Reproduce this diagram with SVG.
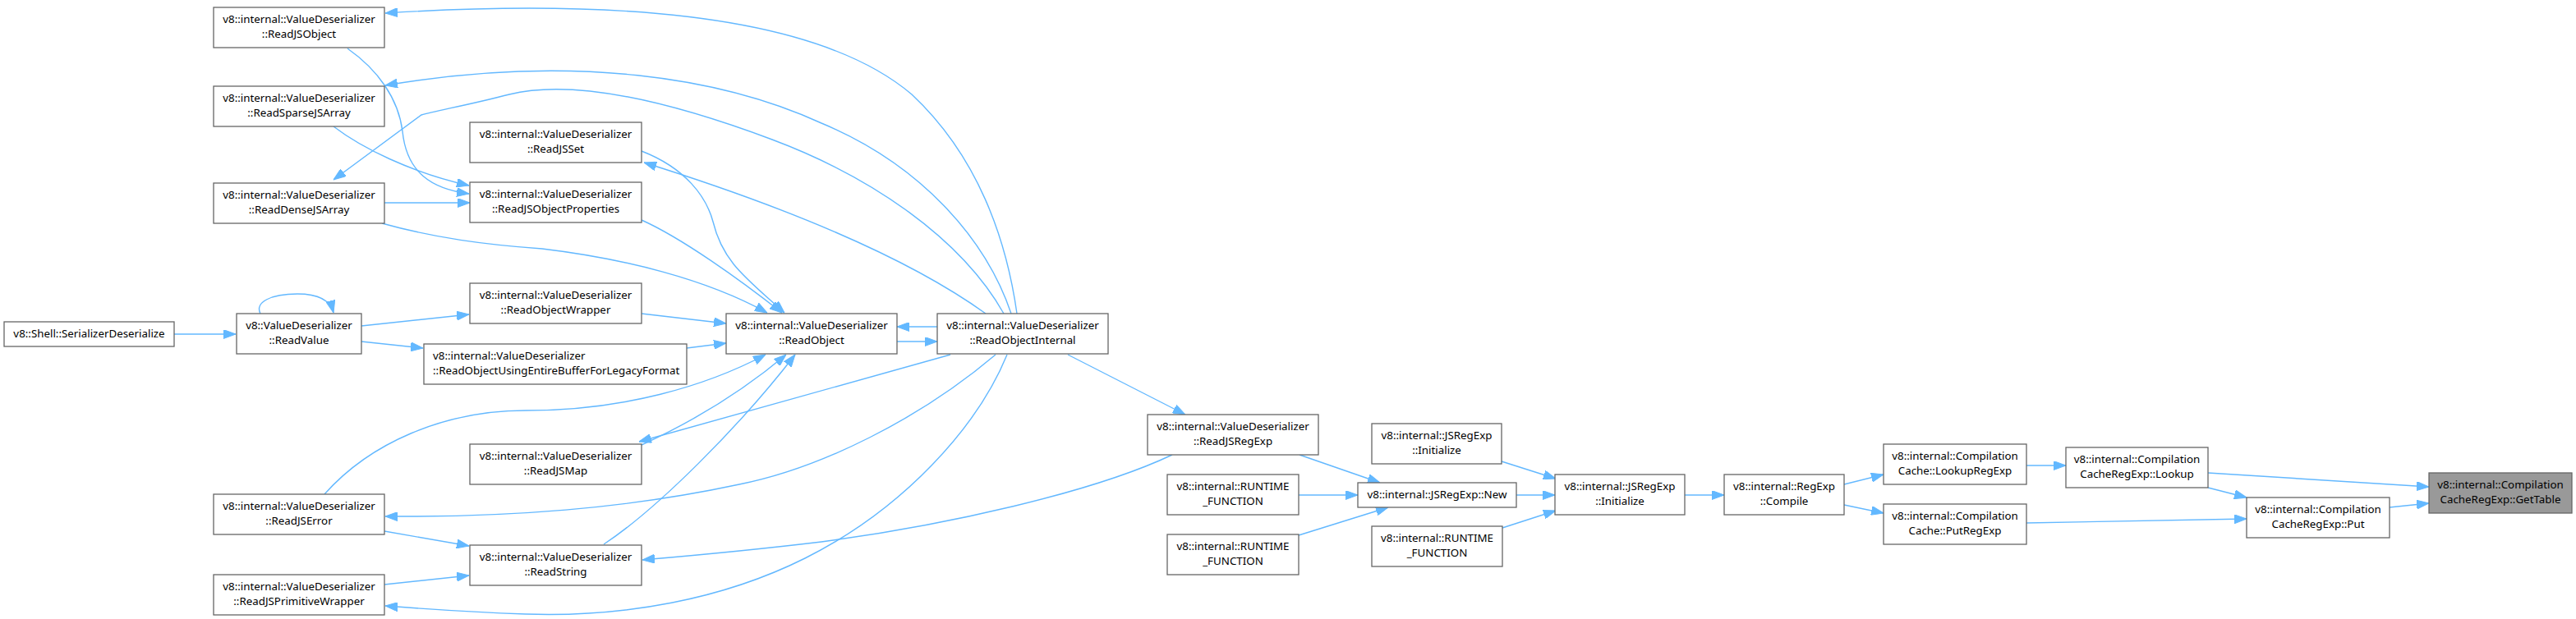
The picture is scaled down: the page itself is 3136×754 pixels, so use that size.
<svg xmlns="http://www.w3.org/2000/svg" width="3136" height="754" viewBox="0 0 3136 754">
<style>
.n rect{fill:#ffffff;stroke:#666666;stroke-width:1.3}
.n.root rect{fill:#999999;stroke:#666666}
.n text{font-family:"Noto Sans","Liberation Sans",sans-serif;font-size:13.33px;fill:#000000;text-anchor:middle}
.n text.l{text-anchor:start}
#edges path{fill:none;stroke:#63b8ff;stroke-width:1.4;marker-end:url(#ah)}
</style>
<defs>
<marker id="ah" markerUnits="userSpaceOnUse" markerWidth="15" markerHeight="11" refX="15" refY="5.5" orient="auto">
<path d="M0,0 L15,5.5 L0,11 z" fill="#63b8ff" stroke="#63b8ff" stroke-width="1"/>
</marker>
</defs>
<rect width="3136" height="754" fill="#ffffff"/>
<g id="edges">
<path d="M212,407 L287,407"/>
<path d="M317,382 C310,368 330,358 362,358 C385,358 402,365 406,381"/>
<path d="M440,397 L571,383"/>
<path d="M440,416 L515,424"/>
<path d="M781,382 L884,394"/>
<path d="M836,424 L884,418"/>
<path d="M1092,416 L1141,416"/>
<path d="M1141,398 L1092,398"/>
<path d="M468,247 L572,247"/>
<path d="M406,154 C440,180 500,210 571,226"/>
<path d="M423,59 C460,85 485,120 490,160 C495,210 525,230 571,236"/>
<path d="M1238,382 C1225,290 1190,190 1110,115 C1010,30 800,-5 469,16"/>
<path d="M1231,382 C1200,290 1120,200 1000,150 C880,95 700,65 469,104"/>
<path d="M1222,382 C1170,290 1060,215 940,170 C820,125 700,95 620,115 C570,128 530,135 513,140 L406,219"/>
<path d="M1200,382 C1100,310 950,250 784,198"/>
<path d="M781,184 C835,205 860,240 868,270 C880,320 910,340 955,381"/>
<path d="M781,268 C830,290 900,340 952,381"/>
<path d="M465,272 C530,290 590,298 660,303 C760,315 860,340 934,381"/>
<path d="M781,542 C840,515 900,480 957,432"/>
<path d="M1157,432 L778,538"/>
<path d="M735,663 C800,620 900,520 968,432"/>
<path d="M395,602 C450,540 540,500 640,500 C760,500 860,470 932,432"/>
<path d="M1212,432 C1120,510 1000,570 900,590 C760,620 620,630 469,629"/>
<path d="M468,647 L571,665"/>
<path d="M468,712 L571,701"/>
<path d="M1226,432 C1190,520 1100,620 980,680 C880,730 760,752 640,748 C580,746 520,742 469,738"/>
<path d="M1427,554 C1330,600 1150,640 1000,660 C900,672 840,677 782,682"/>
<path d="M1300,432 L1443,505"/>
<path d="M1582,554 L1680,588"/>
<path d="M1581,603 L1653,603"/>
<path d="M1581,652 L1690,618"/>
<path d="M1846,603 L1893,603"/>
<path d="M1828,562 L1894,583"/>
<path d="M1829,643 L1894,622"/>
<path d="M2051,603 L2099,603"/>
<path d="M2245,590 L2293,578"/>
<path d="M2245,615 L2293,625"/>
<path d="M2467,567 L2515,567"/>
<path d="M2688,576 L2957,593"/>
<path d="M2688,594 L2735,606"/>
<path d="M2467,637 L2735,632"/>
<path d="M2909,618 L2957,613"/>
</g>
<g id="n1" class="n"><rect x="5" y="392" width="207" height="30"/><text x="108.5" y="411">v8::Shell::SerializerDeserialize</text></g>
<g id="n2" class="n"><rect x="288" y="382" width="152" height="49"/><text x="364" y="401">v8::ValueDeserializer</text><text x="364" y="419">::ReadValue</text></g>
<g id="n3" class="n"><rect x="260" y="9" width="208" height="49"/><text x="364" y="28">v8::internal::ValueDeserializer</text><text x="364" y="46">::ReadJSObject</text></g>
<g id="n4" class="n"><rect x="260" y="105" width="208" height="49"/><text x="364" y="124">v8::internal::ValueDeserializer</text><text x="364" y="142">::ReadSparseJSArray</text></g>
<g id="n5" class="n"><rect x="260" y="223" width="208" height="49"/><text x="364" y="242">v8::internal::ValueDeserializer</text><text x="364" y="260">::ReadDenseJSArray</text></g>
<g id="n6" class="n"><rect x="260" y="602" width="208" height="49"/><text x="364" y="621">v8::internal::ValueDeserializer</text><text x="364" y="639">::ReadJSError</text></g>
<g id="n7" class="n"><rect x="260" y="700" width="208" height="49"/><text x="364" y="719">v8::internal::ValueDeserializer</text><text x="364" y="737">::ReadJSPrimitiveWrapper</text></g>
<g id="n8" class="n"><rect x="572" y="149" width="209" height="49"/><text x="676.5" y="168">v8::internal::ValueDeserializer</text><text x="676.5" y="186">::ReadJSSet</text></g>
<g id="n9" class="n"><rect x="572" y="222" width="209" height="49"/><text x="676.5" y="241">v8::internal::ValueDeserializer</text><text x="676.5" y="259">::ReadJSObjectProperties</text></g>
<g id="n10" class="n"><rect x="572" y="345" width="209" height="49"/><text x="676.5" y="364">v8::internal::ValueDeserializer</text><text x="676.5" y="382">::ReadObjectWrapper</text></g>
<g id="n11" class="n"><rect x="516" y="419" width="320" height="49"/><text class="l" x="527" y="438">v8::internal::ValueDeserializer</text><text class="l" x="527" y="456">::ReadObjectUsingEntireBufferForLegacyFormat</text></g>
<g id="n12" class="n"><rect x="572" y="541" width="209" height="49"/><text x="676.5" y="560">v8::internal::ValueDeserializer</text><text x="676.5" y="578">::ReadJSMap</text></g>
<g id="n13" class="n"><rect x="572" y="664" width="209" height="49"/><text x="676.5" y="683">v8::internal::ValueDeserializer</text><text x="676.5" y="701">::ReadString</text></g>
<g id="n14" class="n"><rect x="884" y="382" width="208" height="49"/><text x="988" y="401">v8::internal::ValueDeserializer</text><text x="988" y="419">::ReadObject</text></g>
<g id="n15" class="n"><rect x="1141" y="382" width="208" height="49"/><text x="1245" y="401">v8::internal::ValueDeserializer</text><text x="1245" y="419">::ReadObjectInternal</text></g>
<g id="n16" class="n"><rect x="1397" y="505" width="208" height="49"/><text x="1501" y="524">v8::internal::ValueDeserializer</text><text x="1501" y="542">::ReadJSRegExp</text></g>
<g id="n17" class="n"><rect x="1421" y="578" width="160" height="49"/><text x="1501" y="597">v8::internal::RUNTIME</text><text x="1501" y="615">_FUNCTION</text></g>
<g id="n18" class="n"><rect x="1421" y="651" width="160" height="49"/><text x="1501" y="670">v8::internal::RUNTIME</text><text x="1501" y="688">_FUNCTION</text></g>
<g id="n19" class="n"><rect x="1653" y="588" width="193" height="30"/><text x="1749.5" y="607">v8::internal::JSRegExp::New</text></g>
<g id="n20" class="n"><rect x="1670" y="516" width="158" height="49"/><text x="1749" y="535">v8::internal::JSRegExp</text><text x="1749" y="553">::Initialize</text></g>
<g id="n21" class="n"><rect x="1670" y="641" width="159" height="49"/><text x="1749.5" y="660">v8::internal::RUNTIME</text><text x="1749.5" y="678">_FUNCTION</text></g>
<g id="n22" class="n"><rect x="1893" y="578" width="158" height="49"/><text x="1972" y="597">v8::internal::JSRegExp</text><text x="1972" y="615">::Initialize</text></g>
<g id="n23" class="n"><rect x="2099" y="578" width="146" height="49"/><text x="2172" y="597">v8::internal::RegExp</text><text x="2172" y="615">::Compile</text></g>
<g id="n24" class="n"><rect x="2293" y="541" width="174" height="49"/><text x="2380" y="560">v8::internal::Compilation</text><text x="2380" y="578">Cache::LookupRegExp</text></g>
<g id="n25" class="n"><rect x="2293" y="614" width="174" height="49"/><text x="2380" y="633">v8::internal::Compilation</text><text x="2380" y="651">Cache::PutRegExp</text></g>
<g id="n26" class="n"><rect x="2515" y="545" width="173" height="49"/><text x="2601.5" y="564">v8::internal::Compilation</text><text x="2601.5" y="582">CacheRegExp::Lookup</text></g>
<g id="n27" class="n"><rect x="2735" y="606" width="174" height="49"/><text x="2822" y="625">v8::internal::Compilation</text><text x="2822" y="643">CacheRegExp::Put</text></g>
<g id="n28" class="n root"><rect x="2957" y="576" width="174" height="49"/><text x="3044" y="595">v8::internal::Compilation</text><text x="3044" y="613">CacheRegExp::GetTable</text></g>
</svg>
